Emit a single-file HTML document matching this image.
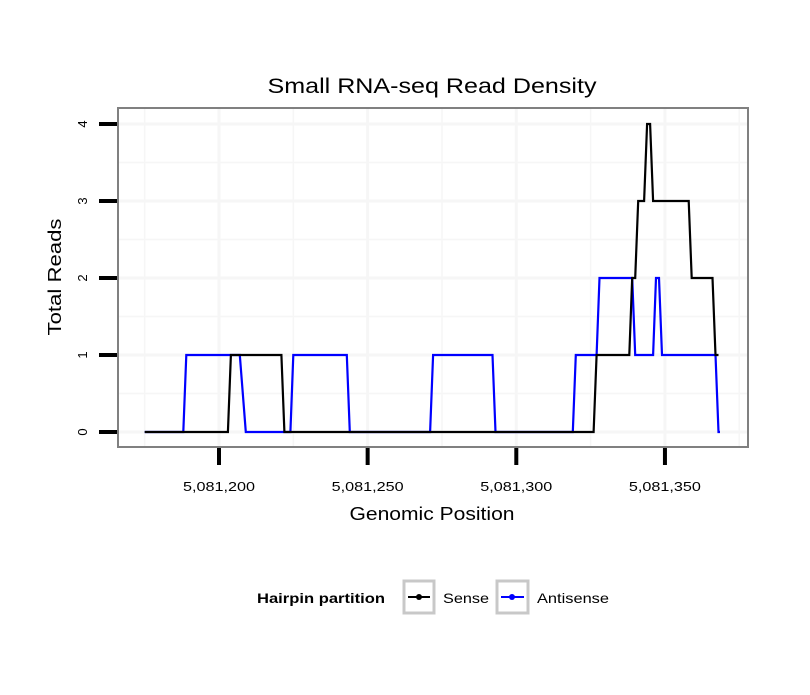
<!DOCTYPE html>
<html><head><meta charset="utf-8"><style>
body{margin:0;background:#fff;}
svg text{font-family:"Liberation Sans",sans-serif;}
</style></head><body>
<svg width="810" height="690" viewBox="0 0 810 690" xmlns="http://www.w3.org/2000/svg">
<rect x="0" y="0" width="810" height="690" fill="#fff"/>
<text x="432" y="93" font-size="21" text-anchor="middle" textLength="329" lengthAdjust="spacingAndGlyphs">Small RNA-seq Read Density</text>
<g id="grid"></g>
<g id="series"></g>
<rect x="118" y="108" width="630" height="339" fill="none" stroke="#808080" stroke-width="2"/>
<g id="axes"></g>
<text x="432" y="520" font-size="18" text-anchor="middle" textLength="165" lengthAdjust="spacingAndGlyphs">Genomic Position</text>
<text transform="translate(61,277) rotate(-90)" font-size="18" text-anchor="middle" textLength="117" lengthAdjust="spacingAndGlyphs">Total Reads</text>
<g>
<text x="257" y="603" font-size="14" font-weight="bold" textLength="128" lengthAdjust="spacingAndGlyphs">Hairpin partition</text>
<g>
<rect x="404" y="581" width="30" height="32" fill="#fff" stroke="#c8c8c8" stroke-width="3"/>
<line x1="408" y1="597" x2="430" y2="597" stroke="#000" stroke-width="2"/><circle cx="419" cy="597" r="3" fill="#000"/>
<text x="443" y="603" font-size="14" textLength="46" lengthAdjust="spacingAndGlyphs">Sense</text></g>
<g>
<rect x="497" y="581" width="31" height="32" fill="#fff" stroke="#c8c8c8" stroke-width="3"/>
<line x1="501" y1="597" x2="524" y2="597" stroke="#0000ff" stroke-width="2"/><circle cx="512" cy="597" r="3" fill="#0000ff"/>
<text x="537" y="603" font-size="14" textLength="72" lengthAdjust="spacingAndGlyphs">Antisense</text></g>
</g>
</svg>
<script>
const senseX=[5081175,5081203,5081204,5081221,5081222,5081326,5081327,5081338,5081339,5081340,5081341,5081343,5081344,5081345,5081346,5081358,5081359,5081366,5081367,5081368];
const senseY=[0,0,1,1,0,0,1,1,2,2,3,3,4,4,3,3,2,2,1,1];
const antiX=[5081175,5081188,5081189,5081207,5081209,5081224,5081225,5081243,5081244,5081271,5081272,5081292,5081293,5081319,5081320,5081327,5081328,5081339,5081340,5081346,5081347,5081348,5081349,5081367,5081368,5081368.5];
const antiY=[0,0,1,1,0,0,1,1,0,0,1,1,0,0,1,1,2,2,1,1,2,2,1,1,0,0];
const xTicks=[5081200,5081250,5081300,5081350];
const xTickLabels=["5,081,200","5,081,250","5,081,300","5,081,350"];
const yTicks=[0,1,2,3,4];
const yTickLabels=["0","1","2","3","4"];
const NS="http://www.w3.org/2000/svg";
function sx(g){return 219+(g-5081200)*2.973;}
function sy(v){return 432-v*77;}
function mk(tag,attrs,parent){const e=document.createElementNS(NS,tag);for(const k in attrs)e.setAttribute(k,attrs[k]);parent.appendChild(e);return e;}
const grid=document.getElementById('grid'),axes=document.getElementById('axes'),series=document.getElementById('series');
const xg=[5081175,5081200,5081225,5081250,5081275,5081300,5081325,5081350,5081375];
xg.forEach((g,i)=>{const l=mk('line',{x1:sx(g),x2:sx(g),y1:109,y2:446,stroke:'#f6f6f6','stroke-width':i%2?3:1.5},grid);

});
[0,0.5,1,1.5,2,2.5,3,3.5,4].forEach((v,i)=>{const l=mk('line',{x1:119,x2:747,y1:sy(v),y2:sy(v),stroke:'#f6f6f6','stroke-width':i%2?1.5:3},grid);

});
function path(xs,ys){return xs.map((x,i)=>(i?'L':'M')+sx(x).toFixed(1)+','+sy(ys[i]).toFixed(1)).join(' ');}
const pb=mk('path',{d:path(antiX,antiY),fill:'none',stroke:'#0000ff','stroke-width':2.2},series);


const pk=mk('path',{d:path(senseX,senseY),fill:'none',stroke:'#000','stroke-width':2.2},series);


xTicks.forEach((g,i)=>{const t=mk('line',{x1:sx(g),x2:sx(g),y1:448,y2:465,stroke:'#000','stroke-width':4},axes);


const tx=mk('text',{x:sx(g),y:491,'font-size':13,'text-anchor':'middle',textLength:72,lengthAdjust:'spacingAndGlyphs'},axes);tx.textContent=xTickLabels[i];

});
yTicks.forEach((v,i)=>{const t=mk('line',{x1:99,x2:117,y1:sy(v),y2:sy(v),stroke:'#000','stroke-width':4},axes);


const tx=mk('text',{transform:'translate(87,'+sy(v)+') rotate(-90)','font-size':13,'text-anchor':'middle'},axes);tx.textContent=yTickLabels[i];

});
</script>
</body></html>
